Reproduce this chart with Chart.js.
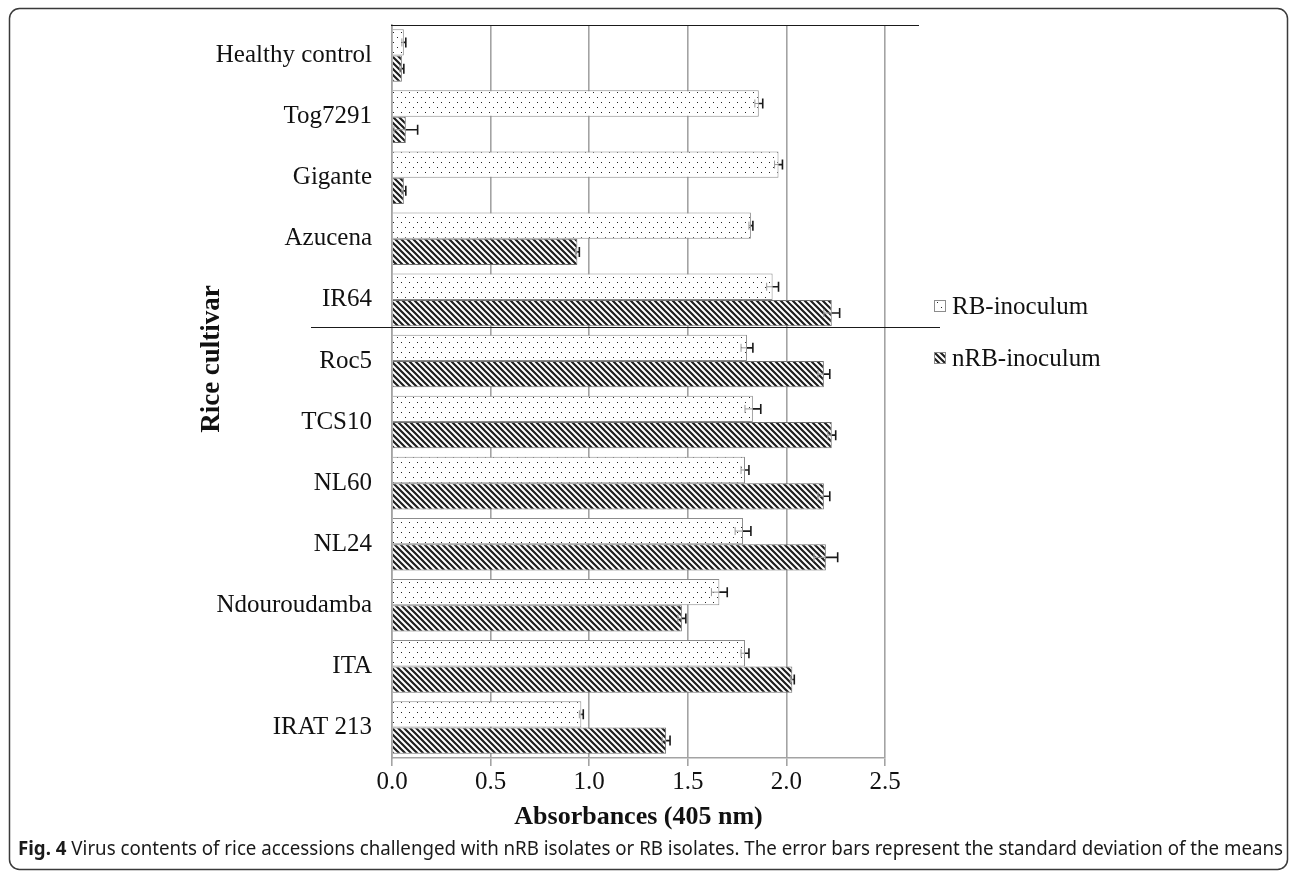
<!DOCTYPE html>
<html>
<head>
<meta charset="utf-8">
<script src="https://cdn.jsdelivr.net/npm/chart.js@4.4.1/dist/chart.umd.min.js"></script>
<style>
  html, body { margin: 0; padding: 0; background: #fff; }
  #wrap { width: 1292px; height: 873px; position: relative; }
</style>
</head>
<body>
<div id="wrap"><canvas id="fig" width="1292" height="873"></canvas></div>
<script>
// cultivars, top to bottom
var cultivars = ['Healthy control', 'Tog7291', 'Gigante', 'Azucena', 'IR64', 'Roc5',
    'TCS10', 'NL60', 'NL24', 'Ndouroudamba', 'ITA', 'IRAT 213'];

var rbValues  = [0.06, 1.86, 1.96, 1.82, 1.93, 1.80, 1.83, 1.79, 1.78, 1.66, 1.79, 0.96];
var rbErrors  = [0.01, 0.02, 0.02, 0.01, 0.03, 0.03, 0.04, 0.02, 0.04, 0.04, 0.02, 0.01];
var nrbValues = [0.05, 0.07, 0.06, 0.94, 2.23, 2.19, 2.23, 2.19, 2.20, 1.47, 2.03, 1.39];
var nrbErrors = [0.01, 0.06, 0.01, 0.01, 0.04, 0.03, 0.02, 0.03, 0.06, 0.02, 0.01, 0.02];

var seriesNames = ['RB-inoculum', 'nRB-inoculum'];
var xTicks = [0, 0.5, 1.0, 1.5, 2.0, 2.5];

var serif = '"Liberation Serif", "Times New Roman", serif';
var caption = 'Virus contents of rice accessions challenged with nRB isolates or RB isolates. The error bars represent the standard deviation of the means';

function dotPattern() {
    var c = document.createElement('canvas');
    c.width = 8; c.height = 10;
    var g = c.getContext('2d');
    g.fillStyle = '#fff';
    g.fillRect(0, 0, 8, 10);
    g.fillStyle = '#222';
    g.fillRect(1, 2, 1, 1);
    g.fillRect(5, 7, 1, 1);
    return g.createPattern(c, 'repeat');
}

function hatchPattern() {
    var n = 6;
    var c = document.createElement('canvas');
    c.width = n; c.height = n;
    var g = c.getContext('2d');
    g.fillStyle = '#fff';
    g.fillRect(0, 0, n, n);
    g.strokeStyle = '#1e1e1e';
    g.lineWidth = 2.2;
    g.beginPath();
    [-n, 0, n].forEach(function(o) {
        g.moveTo(o - 1, -1);
        g.lineTo(o + n + 1, n + 1);
    });
    g.stroke();
    return g.createPattern(c, 'repeat');
}

var dots = dotPattern();
var hatch = hatchPattern();
var errorSets = [rbErrors, nrbErrors];

var decor = {
    id: 'decor',
    afterDatasetsDraw: function(chart) {
        var ctx = chart.ctx;
        var xs = chart.scales.x;
        ctx.save();
        chart.data.datasets.forEach(function(ds, di) {
            var meta = chart.getDatasetMeta(di);
            meta.data.forEach(function(bar, i) {
                var v = ds.data[i], e = errorSets[di][i];
                var x0 = xs.getPixelForValue(v - e);
                var x1 = xs.getPixelForValue(v);
                var x2 = xs.getPixelForValue(v + e);
                var y = bar.y;
                // part hidden in the bar is faint
                ctx.strokeStyle = '#9a9a9a';
                ctx.lineWidth = 1;
                ctx.beginPath();
                ctx.moveTo(x0, y); ctx.lineTo(x1, y);
                ctx.moveTo(x0, y - 4); ctx.lineTo(x0, y + 4);
                ctx.stroke();
                ctx.strokeStyle = '#1a1a1a';
                ctx.lineWidth = 1.6;
                ctx.beginPath();
                ctx.moveTo(x1, y); ctx.lineTo(x2, y);
                ctx.moveTo(x2, y - 5); ctx.lineTo(x2, y + 5);
                ctx.stroke();
            });
        });
        ctx.restore();
    },
    afterDraw: function(chart) {
        var ctx = chart.ctx;
        var area = chart.chartArea;
        ctx.save();

        // figure frame
        ctx.strokeStyle = '#3a3a3a';
        ctx.lineWidth = 1.5;
        ctx.beginPath();
        ctx.roundRect(9.5, 8.5, 1278, 861, 10);
        ctx.stroke();

        // line over the plot top and stray line across the middle
        ctx.strokeStyle = '#1a1a1a';
        ctx.lineWidth = 1.2;
        ctx.beginPath();
        ctx.moveTo(area.left - 1, 25.5); ctx.lineTo(919, 25.5);
        ctx.moveTo(311, 327.5); ctx.lineTo(940, 327.5);
        ctx.stroke();

        // y axis title
        ctx.fillStyle = '#111';
        ctx.font = 'bold 27px ' + serif;
        ctx.textAlign = 'center';
        ctx.textBaseline = 'middle';
        ctx.translate(212, 359);
        ctx.rotate(-Math.PI / 2);
        ctx.fillText('Rice cultivar', 0, 0);
        ctx.setTransform(1, 0, 0, 1, 0, 0);

        // legend
        var fills = [dots, hatch];
        var ly = [306, 358];
        ctx.font = '25px ' + serif;
        ctx.textAlign = 'left';
        seriesNames.forEach(function(name, i) {
            ctx.fillStyle = fills[i];
            ctx.fillRect(934, ly[i] - 6, 12, 12);
            ctx.strokeStyle = '#8c8c8c';
            ctx.lineWidth = 1;
            ctx.strokeRect(934.5, ly[i] - 5.5, 11, 11);
            ctx.fillStyle = '#111';
            ctx.fillText(name, 952, ly[i] + 1);
        });

        // caption
        var cf = '"Noto Sans", "Open Sans", sans-serif';
        ctx.font = 'bold 19px ' + cf;
        var w1 = ctx.measureText('Fig. 4 ').width;
        ctx.font = '19px ' + cf;
        var w2 = ctx.measureText(caption).width;
        var k = 1265 / (w1 + w2);
        ctx.translate(18, 850);
        ctx.scale(k, 1);
        ctx.fillStyle = '#1a1a1a';
        ctx.font = 'bold 19px ' + cf;
        ctx.fillText('Fig. 4', 0, 0);
        ctx.font = '19px ' + cf;
        ctx.fillText(caption, w1, 0);
        ctx.restore();
    }
};

new Chart(document.getElementById('fig'), {
    type: 'bar',
    data: {
        labels: cultivars,
        datasets: [
            {
                label: seriesNames[0],
                data: rbValues,
                backgroundColor: dots,
                borderColor: '#8c8c8c',
                borderWidth: 1,
                categoryPercentage: 0.86,
                barPercentage: 1.0
            },
            {
                label: seriesNames[1],
                data: nrbValues,
                backgroundColor: hatch,
                borderColor: '#6e6e6e',
                borderWidth: 1,
                categoryPercentage: 0.86,
                barPercentage: 1.0
            }
        ]
    },
    options: {
        indexAxis: 'y',
        responsive: false,
        animation: false,
        layout: { padding: { top: 25, right: 407, bottom: 36, left: 0 } },
        plugins: {
            legend: { display: false },
            tooltip: { enabled: false }
        },
        scales: {
            x: {
                min: 0,
                max: 2.5,
                afterBuildTicks: function(scale) {
                    scale.ticks = xTicks.map(function(v) { return { value: v }; });
                },
                afterFit: function(scale) { scale.height = 79; },
                grid: { color: '#a3a3a3', lineWidth: 1.6, tickLength: 8, drawTicks: true },
                border: { color: '#a3a3a3', width: 1.6 },
                ticks: {
                    color: '#111',
                    padding: 1,
                    font: { family: serif, size: 25 },
                    callback: function(v) { return Number(v).toFixed(1); }
                },
                title: {
                    display: true,
                    text: 'Absorbances (405 nm)',
                    color: '#111',
                    padding: { top: 4, bottom: 4 },
                    font: { family: serif, size: 26, weight: 'bold' }
                }
            },
            y: {
                afterFit: function(scale) {
                    scale.width = 392;
                    scale.paddingTop = 0;
                    scale.paddingBottom = 0;
                },
                grid: { display: false, drawTicks: false },
                border: { color: '#a3a3a3', width: 1.6 },
                ticks: {
                    color: '#111',
                    padding: 20,
                    font: { family: serif, size: 25 }
                }
            }
        }
    },
    plugins: [decor]
});
</script>
</body>
</html>
